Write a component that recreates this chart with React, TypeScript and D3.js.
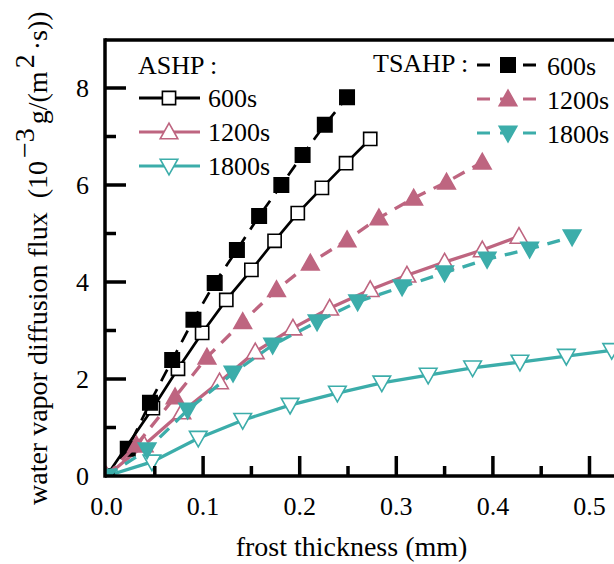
import React from "react";
import * as d3 from "d3";

const ashp600X = [0, 0.048, 0.074, 0.099, 0.124, 0.150, 0.174, 0.198, 0.223, 0.248, 0.273];
const ashp600Y = [0, 1.40, 2.21, 2.95, 3.63, 4.25, 4.85, 5.42, 5.94, 6.45, 6.95];

const ashp1200X = [0, 0.039, 0.078, 0.117, 0.154, 0.193, 0.231, 0.273, 0.311, 0.350, 0.389, 0.427];
const ashp1200Y = [0, 0.64, 1.32, 1.94, 2.56, 3.05, 3.46, 3.84, 4.14, 4.41, 4.66, 4.94];

const ashp1800X = [0, 0.047, 0.095, 0.141, 0.190, 0.239, 0.285, 0.333, 0.379, 0.428, 0.476, 0.523];
const ashp1800Y = [0, 0.29, 0.78, 1.15, 1.46, 1.71, 1.92, 2.08, 2.23, 2.35, 2.47, 2.59];

const tsahp600X = [0, 0.022, 0.045, 0.068, 0.090, 0.112, 0.135, 0.158, 0.181, 0.203, 0.226, 0.249];
const tsahp600Y = [0, 0.56, 1.51, 2.39, 3.22, 3.98, 4.66, 5.36, 6.00, 6.62, 7.24, 7.81];

const tsahp1200X = [0, 0.031, 0.071, 0.104, 0.141, 0.176, 0.211, 0.249, 0.282, 0.318, 0.352, 0.389];
const tsahp1200Y = [0, 0.64, 1.63, 2.45, 3.18, 3.84, 4.39, 4.87, 5.32, 5.73, 6.06, 6.47];

const tsahp1800X = [0, 0.042, 0.084, 0.131, 0.172, 0.218, 0.260, 0.306, 0.350, 0.394, 0.438, 0.482];
const tsahp1800Y = [0, 0.54, 1.36, 2.12, 2.70, 3.18, 3.59, 3.90, 4.19, 4.47, 4.68, 4.93];

const xTicks = [0, 0.1, 0.2, 0.3, 0.4, 0.5];
const xTickLabels = ["0.0", "0.1", "0.2", "0.3", "0.4", "0.5"];
const xMinorTicks = [0.05, 0.15, 0.25, 0.35, 0.45];
const yTicks = [0, 2, 4, 6, 8];
const yTickLabels = ["0", "2", "4", "6", "8"];
const yMinorTicks = [1, 3, 5, 7];

const legendGroups = ["ASHP :", "TSAHP :"];
const timeLabels = ["600s", "1200s", "1800s"];

const BLACK = "#000000";
const PINK = "#BE6580";
const TEAL = "#3CADAA";
const FONT = "'Liberation Serif', 'Times New Roman', Times, serif";

type Marker = "square" | "up" | "down";

interface Series {
  xs: number[];
  ys: number[];
  color: string;
  marker: Marker;
  filled: boolean;
  dashed: boolean;
}

const series: Series[] = [
  { xs: ashp600X, ys: ashp600Y, color: BLACK, marker: "square", filled: false, dashed: false },
  { xs: ashp1200X, ys: ashp1200Y, color: PINK, marker: "up", filled: false, dashed: false },
  { xs: ashp1800X, ys: ashp1800Y, color: TEAL, marker: "down", filled: false, dashed: false },
  { xs: tsahp600X, ys: tsahp600Y, color: BLACK, marker: "square", filled: true, dashed: true },
  { xs: tsahp1200X, ys: tsahp1200Y, color: PINK, marker: "up", filled: true, dashed: true },
  { xs: tsahp1800X, ys: tsahp1800Y, color: TEAL, marker: "down", filled: true, dashed: true },
];

function markerPath(m: Marker, filled: boolean): string {
  if (m === "square") {
    const h = filled ? 7.2 : 6.6;
    return `M${-h},${-h}L${h},${-h}L${h},${h}L${-h},${h}Z`;
  }
  const w = 8.8;
  const h = 7.8;
  if (m === "up") return `M0,${-h - 1}L${w},${h - 1}L${-w},${h - 1}Z`;
  return `M0,${h + 1}L${w},${-h + 1}L${-w},${-h + 1}Z`;
}

function MarkerShape({ cx, cy, s }: { cx: number; cy: number; s: Series }) {
  return (
    <path
      d={markerPath(s.marker, s.filled)}
      transform={`translate(${cx},${cy})`}
      fill={s.filled ? s.color : "#ffffff"}
      stroke={s.color}
      strokeWidth={1.6}
    />
  );
}

export default function App() {
  const W = 614;
  const H = 564;
  const x0 = 106.5;
  const pxPerUnit = 966;
  const x = d3.scaleLinear().domain([0, 0.55]).range([x0, x0 + 0.55 * pxPerUnit]);
  const y = d3.scaleLinear().domain([0, 9]).range([476, 39.5]);
  const left = 105;
  const bottom = 476;
  const top = 40;

  const line = d3
    .line<[number, number]>()
    .x((d) => x(d[0]))
    .y((d) => y(d[1]));

  const axisW = 3.5;

  const legendRowsA = [98, 132, 166];
  const legendRowsT = [65, 99, 133];

  return (
    <svg
      width={W}
      height={H}
      style={{ position: "absolute", left: 0, top: 0, background: "#fff" }}
      fontFamily={FONT}
    >
      <defs>
        <clipPath id="plotClip">
          <rect x={left} y={top} width={W - left} height={bottom - top} />
        </clipPath>
      </defs>

      {/* data */}
      <g clipPath="url(#plotClip)">
        {series.map((s, i) => {
          const pts = s.xs.map((v, j) => [v, s.ys[j]] as [number, number]);
          return (
            <g key={i}>
              <path
                d={line(pts) || ""}
                fill="none"
                stroke={s.color}
                strokeWidth={s.color === BLACK ? 2.7 : 3.3}
                strokeDasharray={s.dashed ? "13,9" : undefined}
              />
              {pts.map((p, j) => (
                <MarkerShape key={j} cx={x(p[0])} cy={y(p[1])} s={s} />
              ))}
            </g>
          );
        })}
      </g>

      {/* axes */}
      <line x1={left} x2={left} y1={top - axisW / 2} y2={bottom + axisW / 2} stroke="#000" strokeWidth={axisW} />
      <line x1={left} x2={W} y1={bottom} y2={bottom} stroke="#000" strokeWidth={axisW} />
      <line x1={left} x2={W} y1={top} y2={top} stroke="#000" strokeWidth={axisW} />

      {yTicks.map((t, i) => (
        <g key={"yt" + i}>
          {t > 0 && (
            <line x1={left} x2={left + 21} y1={y(t)} y2={y(t)} stroke="#000" strokeWidth={axisW} />
          )}
          <text x={89} y={y(t)} dy="0.35em" textAnchor="end" fontSize={26}>
            {yTickLabels[i]}
          </text>
        </g>
      ))}
      {yMinorTicks.map((t, i) => (
        <line key={"ym" + i} x1={left} x2={left + 11} y1={y(t)} y2={y(t)} stroke="#000" strokeWidth={axisW} />
      ))}

      {xTicks.map((t, i) => (
        <g key={"xt" + i}>
          {t > 0 && (
            <line x1={x(t)} x2={x(t)} y1={bottom} y2={bottom - 20} stroke="#000" strokeWidth={axisW} />
          )}
          <text x={x(t)} y={515} textAnchor="middle" fontSize={26}>
            {xTickLabels[i]}
          </text>
        </g>
      ))}
      {xMinorTicks.map((t, i) => (
        <line key={"xm" + i} x1={x(t)} x2={x(t)} y1={bottom} y2={bottom - 10} stroke="#000" strokeWidth={axisW} />
      ))}

      {/* axis titles */}
      <text x={351.5} y={556} textAnchor="middle" fontSize={28}>
        frost thickness (mm)
      </text>
      <text transform="rotate(-90)" x={-505} y={47} textAnchor="start" fontSize={28}>
        <tspan>water vapor diffusion flux</tspan>
        <tspan dx={14}>(10</tspan>
        <tspan dx={3} dy="-0.45em">−3</tspan>
        <tspan dx={4} dy="0.45em">g/(m</tspan>
        <tspan dx={3} dy="-0.45em">2</tspan>
        <tspan dx={4} dy="0.45em">·s))</tspan>
      </text>

      {/* legend ASHP */}
      <text x={138} y={74} fontSize={26}>
        {legendGroups[0]}
      </text>
      {series.slice(0, 3).map((s, i) => (
        <g key={"la" + i}>
          <line x1={139} x2={200} y1={legendRowsA[i]} y2={legendRowsA[i]} stroke={s.color} strokeWidth={3} />
          <MarkerShape cx={169} cy={legendRowsA[i]} s={s} />
          <text x={208} y={legendRowsA[i] + 9} fontSize={26}>
            {timeLabels[i]}
          </text>
        </g>
      ))}

      {/* legend TSAHP */}
      <text x={373} y={72} fontSize={26}>
        {legendGroups[1]}
      </text>
      {series.slice(3, 6).map((s, i) => (
        <g key={"lt" + i}>
          <line
            x1={477}
            x2={538}
            y1={legendRowsT[i]}
            y2={legendRowsT[i]}
            stroke={s.color}
            strokeWidth={3}
            strokeDasharray="13,10"
          />
          <MarkerShape cx={508} cy={legendRowsT[i]} s={s} />
          <text x={547} y={legendRowsT[i] + 10} fontSize={26}>
            {timeLabels[i]}
          </text>
        </g>
      ))}
    </svg>
  );
}
